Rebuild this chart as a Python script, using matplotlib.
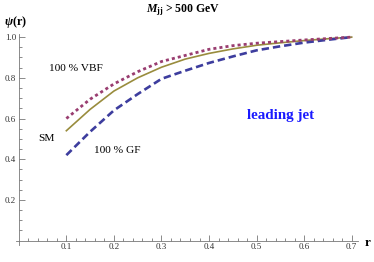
import matplotlib
matplotlib.use("Agg")
import matplotlib.pyplot as plt
import numpy as np

plt.rcParams['font.family'] = ['Liberation Serif', 'DejaVu Serif']
plt.rcParams['mathtext.fontset'] = 'custom'
plt.rcParams['mathtext.it'] = 'Liberation Serif:italic:bold'
plt.rcParams['mathtext.rm'] = 'Liberation Serif:bold'
plt.rcParams['mathtext.bf'] = 'Liberation Serif:bold'

r = [0.1, 0.15, 0.2, 0.25, 0.3, 0.35, 0.4, 0.45, 0.5, 0.55, 0.6, 0.65, 0.7]
psi_vbf = [0.60, 0.695, 0.77, 0.83, 0.88, 0.91, 0.94, 0.958, 0.97, 0.978, 0.986, 0.993, 1.0]
psi_sm = [0.54, 0.645, 0.735, 0.80, 0.852, 0.892, 0.92, 0.942, 0.96, 0.972, 0.983, 0.992, 1.0]
psi_gf = [0.42, 0.535, 0.64, 0.72, 0.795, 0.835, 0.873, 0.905, 0.935, 0.955, 0.973, 0.987, 1.0]

xticks = [0.1, 0.2, 0.3, 0.4, 0.5, 0.6, 0.7]
yticks = [0.2, 0.4, 0.6, 0.8, 1.0]

fig = plt.figure(figsize=(3.74, 2.62), dpi=100)
ax = fig.add_axes([0.0439, 0.066, 0.913, 0.804])

ax.plot(r, psi_sm, color=(0.6, 0.55, 0.24), lw=1.2)
ax.plot(r, psi_gf, color=(0.24, 0.24, 0.62), lw=1.9, dashes=(2.8, 1.5))
ax.plot(r, psi_vbf, color=(0.6, 0.24, 0.44), lw=2.0, dashes=(1.1, 1.1))

ax.set_xlim(-0.005, 0.713)
ax.set_ylim(-0.02, 1.015)
for s in ['top', 'right']:
    ax.spines[s].set_visible(False)
ax.spines['left'].set_position(('data', 0))
ax.spines['bottom'].set_position(('data', 0))
for s in ['left', 'bottom']:
    ax.spines[s].set_color('#777777')
    ax.spines[s].set_linewidth(0.6)

ax.set_xticks(xticks)
ax.set_xticklabels(['%.1f' % v for v in xticks])
ax.set_yticks(yticks)
ax.set_yticklabels(['%.1f' % v for v in yticks])
ax.set_xticks(np.arange(0.02, 0.71, 0.02), minor=True)
ax.set_yticks(np.arange(0.05, 1.01, 0.05), minor=True)
ax.tick_params(which='both', direction='in', color='#777777', width=0.6,
               labelsize=6.5, labelcolor='#333333', pad=2)
ax.tick_params(which='major', length=4)
ax.tick_params(which='minor', length=2.2)

ax.text(0.064, 0.835, '100 % VBF', fontsize=8.2)
ax.text(0.04, 0.49, 'SM', fontsize=8.2)
ax.text(0.158, 0.43, '100 % GF', fontsize=8.2)
ax.text(0.48, 0.6, 'leading jet', fontsize=10.8, fontweight='bold', color='#1a1aff')

fig.text(0.49, 0.962, r'$M_{\mathrm{jj}}$ > 500 GeV', ha='center', va='center',
         fontsize=8.5, fontweight='bold')
fig.text(0.012, 0.915, r'$\psi$(r)', ha='left', va='center', fontsize=8.8, fontweight='bold')
fig.text(0.982, 0.072, 'r', ha='center', va='center', fontsize=9.5, fontweight='bold')

fig.savefig('out.png', dpi=100)
